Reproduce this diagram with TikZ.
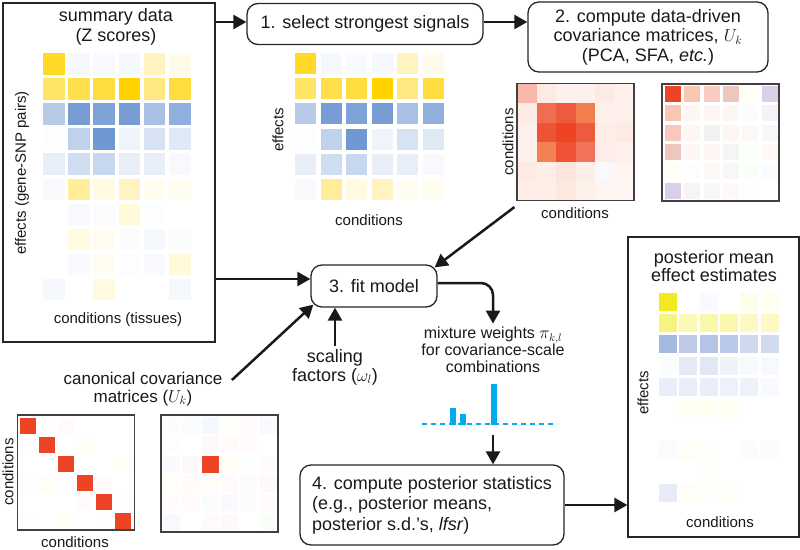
\documentclass[tikz,border=0pt]{standalone}
\usepackage{amsmath}
\usepackage{fontspec}
\setmainfont{Liberation Sans}
\usepackage{xcolor}
\usepackage{tikz}
\usetikzlibrary{arrows.meta, positioning, calc}

\definecolor{zyel}{RGB}{255,210,0}
\definecolor{zblu}{RGB}{95,140,205}
\definecolor{pyel}{RGB}{242,232,20}
\definecolor{pblu}{RGB}{135,160,215}
\definecolor{cred}{RGB}{236,68,36}
\definecolor{corg}{RGB}{240,112,60}
\definecolor{crose}{RGB}{215,130,110}
\definecolor{cpur}{RGB}{165,135,195}
\definecolor{wcyan}{RGB}{0,170,235}

\begin{document}
\begin{tikzpicture}[
    % Global styles
    x=1pt, y=-1pt,
    font=\fontsize{18}{20}\selectfont,
    >={Triangle[length=13pt,width=14pt]},
    % Box styles
    stepbox/.style={
      rectangle, rounded corners=11pt, draw=black!85, line width=1.3pt,
      align=center, inner sep=0pt, text=black!90
    },
    panelbox/.style={
      rectangle, draw=black!85, line width=1.3pt, inner sep=0pt
    },
    matframe/.style={
      rectangle, draw=black!75, line width=1.2pt,
      minimum width=117pt, minimum height=117pt, inner sep=0pt
    },
    titletext/.style={align=center, text=black!90},
    axlabel/.style={font=\fontsize{15}{17}\selectfont, text=black!90, inner sep=1pt},
    arr/.style={->, line width=2.5pt, draw=black!90},
  ]
  \useasboundingbox (0,0) rectangle (800,549);

  % ====================================================================
  % SUMMARY DATA (Z scores)
  % ====================================================================
  \node[panelbox, minimum width=212pt, minimum height=339pt] (zbox) at (109,172.5) {};
  \node[titletext] (ztitle) at (116,27) {summary data\\(Z scores)};

  \foreach \cells [count=\r from 0] in {
    {zyel!85, zblu!6, zblu!4, zblu!6, zyel!25, zyel!8},
    {zyel!60, zyel!70, zyel!75, zyel!100, zyel!50, zyel!75},
    {zblu!45, zblu!85, zblu!80, zblu!85, zblu!55, zblu!70},
    {zblu!2, zblu!40, zblu!90, zblu!10, zblu!25, zblu!20},
    {zblu!15, zblu!30, zblu!35, zblu!15, zblu!15, zblu!5},
    {zblu!5, zyel!40, zyel!12, zyel!25, zyel!6, zyel!6},
    {white, zblu!5, zblu!3, zyel!15, zblu!2, white},
    {white, zyel!12, zyel!6, zblu!3, zblu!6, zblu!3},
    {white, zblu!4, zyel!5, zblu!2, zblu!4, zyel!15},
    {zblu!6, white, zyel!12, white, white, zblu!6}}{
    \foreach \c [count=\i from 0] in \cells
      \fill[fill=\c] (43+25.2*\i, 53+25.1*\r) rectangle ++(21.5,21.5);
  }
  \node[axlabel] (zcond) at (118,320) {conditions (tissues)};
  \node[axlabel, rotate=90] (zeff) at (22,173) {effects (gene-SNP pairs)};

  % ====================================================================
  % STEP 1 -- strongest signals
  % ====================================================================
  \node[stepbox, minimum width=236pt, minimum height=41pt] (s1) at (365,24) {1. select strongest signals};
  \coordinate (s1in) at ([yshift=2pt]s1.west);
  \coordinate (s1out) at ([yshift=2pt]s1.east);

  \foreach \cells [count=\r from 0] in {
    {zyel!85, zblu!6, zblu!4, zblu!6, zyel!25, zyel!8},
    {zyel!60, zyel!70, zyel!75, zyel!100, zyel!50, zyel!75},
    {zblu!45, zblu!85, zblu!80, zblu!85, zblu!55, zblu!70},
    {zblu!2, zblu!40, zblu!90, zblu!10, zblu!25, zblu!20},
    {zblu!15, zblu!30, zblu!35, zblu!15, zblu!15, zblu!5},
    {zblu!5, zyel!40, zyel!12, zyel!25, zyel!6, zyel!6}}{
    \foreach \c [count=\i from 0] in \cells
      \fill[fill=\c] (295+25.5*\i, 53+25.2*\r) rectangle ++(21,21);
  }
  \node[axlabel, rotate=90] (seff) at (278,130) {effects};
  \node[axlabel] (scond) at (369,220) {conditions};

  % ====================================================================
  % STEP 2 -- data-driven covariances
  % ====================================================================
  \node[stepbox, minimum width=240pt, minimum height=70pt, font=\fontsize{18}{19.5}\selectfont] (s2) at (648,37)
    {2. compute data-driven\\covariance matrices, $U_k$\\(PCA, SFA, \textit{etc.})};

  \foreach \cells [count=\r from 0] in {
    {cred!38, corg!15, cred!8, cred!8, corg!15, cred!8},
    {corg!15, cred!78, cred!88, corg!90, cred!8, corg!10},
    {cred!8, cred!92, cred!100, cred!88, corg!12, corg!15},
    {cred!8, corg!88, cred!92, cred!75, cred!10, cred!8},
    {corg!15, corg!12, corg!18, corg!12, cpur!6, cred!6},
    {corg!12, corg!12, corg!16, corg!10, cred!6, cred!6}}{
    \foreach \c [count=\i from 0] in \cells
      \fill[fill=\c] (517+19.5*\i, 83.5+19.5*\r) rectangle ++(19.6,19.6);
  }
  \node[matframe] (dd1) at (575.5,142) {};
  \node[axlabel, rotate=90] (dd1rows) at (508,142) {conditions};
  \node[axlabel] (dd1cols) at (575,213) {conditions};

  \foreach \cells [count=\r from 0] in {
    {cred!100, corg!40, cred!28, crose!45, zyel!4, cpur!40},
    {corg!40, corg!6, cred!5, cred!5, zblu!3, cpur!12},
    {cred!30, cred!5, black!5, cred!5, corg!5, black!3},
    {crose!45, cred!5, cred!5, black!4, green!2, cred!4},
    {zyel!4, zblu!2, corg!5, black!3, green!3, zblu!3},
    {cpur!40, cpur!10, black!3, cred!4, zblu!2, white}}{
    \foreach \c [count=\i from 0] in \cells
      \fill[fill=\c] (665+19.3*\i, 86+19.3*\r) rectangle ++(16,16);
  }
  \node[matframe] (dd2) at (720.5,142.5) {};

  % ====================================================================
  % STEP 3 -- fit model
  % ====================================================================
  \node[stepbox, minimum width=126pt, minimum height=42pt] (fit) at (374,286) {3. fit model};
  \coordinate (fitin) at ([yshift=7pt]fit.west);
  \coordinate (fitout) at ([yshift=3pt]fit.east);

  \node[titletext, font=\fontsize{18}{19}\selectfont] (scal) at (335,367) {scaling\\factors ($\omega_l$)};
  \node[titletext, font=\fontsize{17}{18}\selectfont] (canon) at (143,389) {canonical covariance\\matrices ($U_k$)};

  % canonical covariance matrices
  \foreach \cells [count=\r from 0] in {
    {cred!100, cred!1, cred!2, white, white, white},
    {cred!1, cred!100, white, zyel!3, white, white},
    {white, white, cred!100, white, white, zyel!3},
    {cred!1, zyel!4, cred!1, cred!100, cred!2, white},
    {white, white, white, cred!2, cred!100, cred!1},
    {cred!1, white, zyel!3, white, cred!1, cred!100}}{
    \foreach \c [count=\i from 0] in \cells
      \fill[fill=\c] (20+19*\i, 418+19*\r) rectangle ++(16,16);
  }
  \node[matframe, minimum height=115pt] (can1) at (76,472.5) {};
  \node[axlabel, rotate=90] (can1rows) at (8,472) {conditions};
  \node[axlabel] (can1cols) at (75,542) {conditions};

  \foreach \cells [count=\r from 0] in {
    {zblu!3, zblu!3, zblu!6, zyel!3, cred!2, zblu!4},
    {zblu!2, white, cred!3, cred!2, cred!2, white},
    {zblu!4, cred!3, cred!100, zyel!4, zblu!2, cred!2},
    {zyel!3, cred!2, zyel!4, cred!2, zblu!3, cred!3},
    {cred!2, cred!2, zblu!3, zblu!4, zblu!3, cred!2},
    {zblu!5, white, cred!2, cred!3, white, green!3}}{
    \foreach \c [count=\i from 0] in \cells
      \fill[fill=\c] (163+19.3*\i, 417+19.3*\r) rectangle ++(17,17);
  }
  \node[matframe] (can2) at (219.5,473.5) {};

  % mixture weights
  \node[titletext, font=\fontsize{16}{17}\selectfont] (mix) at (493,350)
    {mixture weights $\pi_{k,l}$\\for covariance-scale\\combinations};
  \draw[wcyan, line width=1.6pt, dash pattern=on 5pt off 4pt] (422,424) -- (557,424);
  \fill[wcyan] (450,408) rectangle (456,425);
  \fill[wcyan] (460,414) rectangle (466,425);
  \fill[wcyan] (491,384) rectangle (497,425);
  \coordinate (wbase) at (493,435);

  % ====================================================================
  % STEP 4 -- posterior statistics
  % ====================================================================
  \node[stepbox, align=left, minimum width=264pt, minimum height=80pt, font=\fontsize{18}{20.5}\selectfont] (s4) at (432,505)
    {4. compute posterior statistics\\(e.g., posterior means,\\posterior s.d.'s, \textit{lfsr})};

  \node[panelbox, minimum width=171pt, minimum height=300pt] (pbox) at (713.5,387) {};
  \node[titletext, font=\fontsize{18}{18.5}\selectfont] (ptitle) at (714,266) {posterior mean\\effect estimates};

  \foreach \cells [count=\r from 0] in {
    {pyel!95, white, pblu!5, white, pyel!10, pyel!6},
    {pyel!55, pyel!30, pyel!35, pyel!35, pyel!25, pyel!25},
    {pblu!75, pblu!55, pblu!62, pblu!58, pblu!42, pblu!38},
    {pblu!3, pblu!22, pblu!25, pblu!14, pblu!6, pblu!6},
    {pblu!18, pblu!18, pblu!18, pblu!15, pblu!15, pblu!5},
    {white, pyel!6, pyel!6, pyel!6, white, white},
    {white, white, white, white, white, white},
    {pblu!4, pyel!4, pyel!3, white, pblu!3, pblu!3},
    {white, white, pyel!3, white, white, white},
    {pblu!20, pyel!4, pyel!3, pyel!3, white, white}}{
    \foreach \c [count=\i from 0] in \cells
      \fill[fill=\c] (659+20.3*\i, 293+21.2*\r) rectangle ++(18,18);
  }
  \node[axlabel, rotate=90] (peff) at (643,393) {effects};
  \node[axlabel] (pcond) at (720,522) {conditions};

  % ------- Arrows -------
  \draw[arr] (zbox.east |- s1in) -- (s1in);
  \draw[arr] (s1out) -- (s1out -| s2.west);
  \draw[arr] (zbox.east |- fitin) -- (fitin);
  \draw[arr] ([shift={(-2pt,-6pt)}]dd1.south west) -- ([shift={(-3pt,-3pt)}]fit.north east);
  \draw[arr] ([shift={(6pt,9pt)}]canon.east) -- ([shift={(3pt,3pt)}]fit.south west);
  \draw[arr] (scal.north) -- (scal.north |- fit.south);
  \draw[arr, rounded corners=12pt] (fitout) -| (mix.north);
  \draw[arr] (wbase) -- (wbase |- s4.north);
  \draw[arr] (s4.east) -- (s4.east -| pbox.west);

\end{tikzpicture}
\end{document}
